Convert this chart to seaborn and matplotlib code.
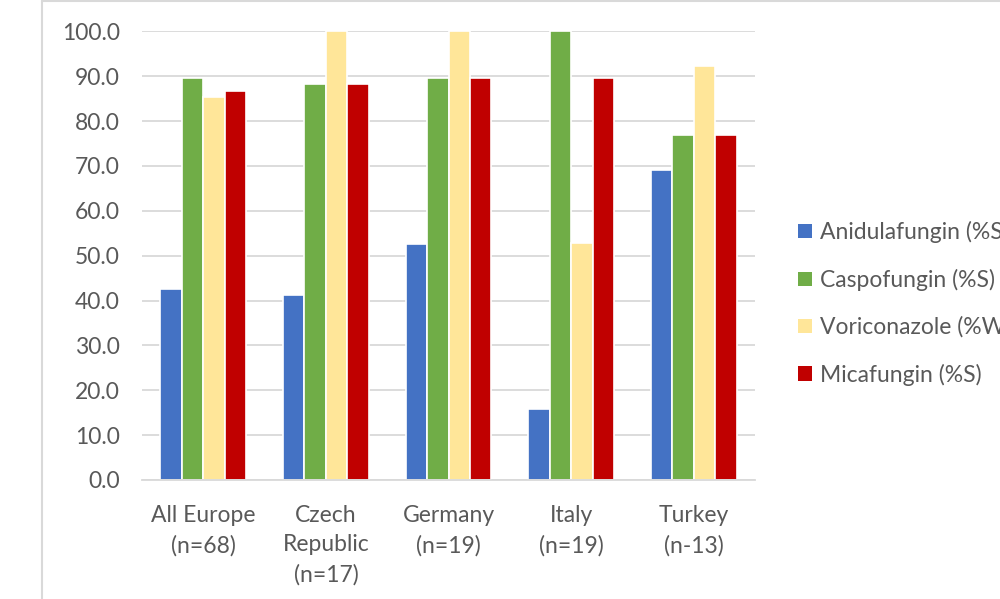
import matplotlib
matplotlib.use("Agg")
import matplotlib.pyplot as plt
import seaborn as sns
import pandas as pd
from matplotlib.patches import Patch
from matplotlib.lines import Line2D

categories = ["All Europe\n(n=68)", "Czech\nRepublic\n(n=17)", "Germany\n(n=19)", "Italy\n(n=19)", "Turkey\n(n-13)"]
series_names = ["Anidulafungin (%S)", "Caspofungin (%S)", "Voriconazole (%WT)", "Micafungin (%S)"]
anidulafungin = [42.6, 41.2, 52.6, 15.8, 69.2]
caspofungin = [89.7, 88.2, 89.5, 100.0, 76.9]
voriconazole = [85.3, 100.0, 100.0, 52.8, 92.3]
micafungin = [86.8, 88.2, 89.5, 89.5, 76.9]
colors = ["#4472C4", "#70AD47", "#FFE699", "#C00000"]
yticks = [0, 10, 20, 30, 40, 50, 60, 70, 80, 90, 100]

values = [anidulafungin, caspofungin, voriconazole, micafungin]
rows = []
for s, vals in zip(series_names, values):
    for c, v in zip(categories, vals):
        rows.append({"category": c, "series": s, "value": v})
df = pd.DataFrame(rows)

sns.set_theme(style="white")
plt.rcParams["font.family"] = ["Lato", "DejaVu Sans"]

fig = plt.figure(figsize=(10, 5.99), dpi=100)
ax = fig.add_axes([0.142, 0.1987, 0.613, 0.749])

sns.barplot(data=df, x="category", y="value", hue="series", order=categories,
            hue_order=series_names, palette=colors, width=0.7, edgecolor="white",
            linewidth=1.2, ax=ax, legend=False, saturation=1)

ax.set_ylim(0, 100)
ax.set_xlim(-0.5, 4.5)
ax.set_yticks(yticks)
ax.set_yticklabels([f"{t:.1f}" for t in yticks])
ax.yaxis.grid(True, color="#D9D9D9", linewidth=1.3)
ax.set_axisbelow(True)
for sp in ["top", "right", "left"]:
    ax.spines[sp].set_visible(False)
ax.spines["bottom"].set_color("#D9D9D9")
ax.spines["bottom"].set_linewidth(1.3)
ax.tick_params(axis="both", length=0, labelsize=16.5, colors="#595959")
ax.tick_params(axis="y", pad=16)
ax.tick_params(axis="x", pad=18)
for lbl in ax.get_xticklabels():
    lbl.set_linespacing(1.5)
ax.set_xlabel("")
ax.set_ylabel("")

# chart frame border
fig.add_artist(Line2D([0.042, 0.042], [0, 0.998], transform=fig.transFigure, color="#D9D9D9", linewidth=1.5))
fig.add_artist(Line2D([0.042, 1.0], [0.998, 0.998], transform=fig.transFigure, color="#D9D9D9", linewidth=1.5))

handles = [Patch(facecolor=c, edgecolor="none") for c in colors]
fig.legend(handles, series_names, loc="upper left", bbox_to_anchor=(0.798, 1 - 221 / 599),
           frameon=False, fontsize=16.5, labelcolor="#595959", handlelength=0.6,
           handleheight=0.6, handletextpad=0.35, labelspacing=1.12, borderaxespad=0,
           borderpad=0)

fig.savefig("out.png", dpi=100)
